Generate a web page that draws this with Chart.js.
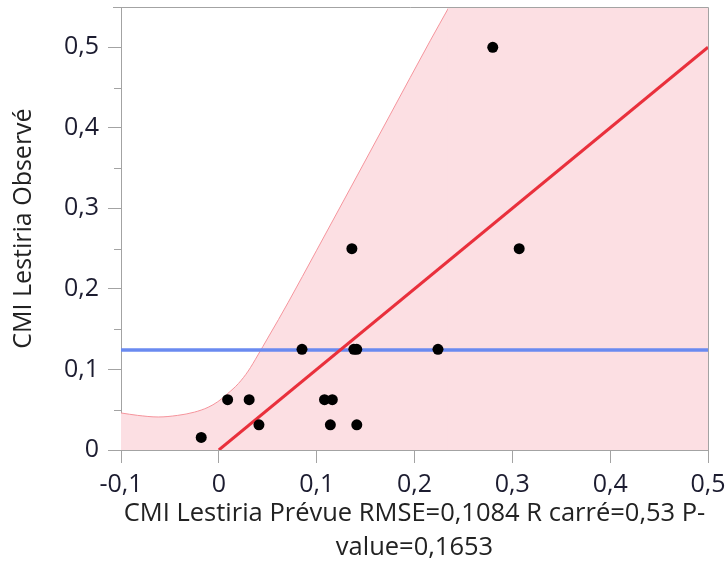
<!DOCTYPE html>
<html>
<head>
<meta charset="utf-8">
<script src="https://cdn.jsdelivr.net/npm/chart.js@4.4.1/dist/chart.umd.min.js"></script>
<style>
  html, body { margin: 0; padding: 0; background: #ffffff; }
  #wrap { width: 725px; height: 565px; }
</style>
</head>
<body>
<div id="wrap"><canvas id="c" width="725" height="565"></canvas></div>
<script>
// Predicted vs observed CMI (Lestiria)
const predicted = [-0.018, 0.009, 0.031, 0.041, 0.085, 0.108, 0.116, 0.114, 0.136, 0.138, 0.141, 0.141, 0.224, 0.280, 0.307];
const observed  = [0.0156, 0.0625, 0.0625, 0.03125, 0.125, 0.0625, 0.0625, 0.03125, 0.25, 0.125, 0.125, 0.03125, 0.125, 0.5, 0.25];

// Upper confidence curve of the fit, up to where it leaves the plot (filled down to 0)
const bandX     = [-0.1, -0.083, -0.062, -0.042, -0.025, -0.011, -0.001, 0.009, 0.020, 0.030, 0.040, 0.050, 0.061, 0.071, 0.100, 0.134, 0.175, 0.216, 0.2353];
const bandUpper = [0.046, 0.043, 0.041, 0.043, 0.047, 0.053, 0.060, 0.070, 0.0825, 0.098, 0.118, 0.139, 0.162, 0.1835, 0.248, 0.324, 0.416, 0.508, 0.55];
// Beyond that the band covers the whole height of the plot
const bandTopX  = [0.234, 0.5];
const bandTopY  = [0.55, 0.55];

// Fit line and mean of observed values
const fitX = [0, 0.5];
const fitY = [0, 0.5];
const meanObserved = 0.124;

// Axis ticks
const xTickValues = [-0.1, 0, 0.1, 0.2, 0.3, 0.4, 0.5];
const yTickValues = [0, 0.1, 0.2, 0.3, 0.4, 0.5];
const yMinorValues = [0.05, 0.15, 0.25, 0.35, 0.45];

const xTitle = ['CMI Lestiria Prévue RMSE=0,1084 R carré=0,53 P-', 'value=0,1653'];
const yTitle = 'CMI Lestiria Observé';

const AXIS = '#a3a3a3';
const BAND = '#fcdfe3';
const FONT = '"Open Sans", "Noto Sans", sans-serif';

function fmt(v) {
  const r = Math.round(v * 10) / 10;
  return r === 0 ? '0' : r.toFixed(1).replace('.', ',');
}

const zip = (xs, ys) => xs.map((x, i) => ({ x: x, y: ys[i] }));

// Frame (top/right edges) and minor ticks on the y axis
const framePlugin = {
  id: 'frame',
  afterDatasetsDraw(chart) {
    const { ctx, chartArea: a, scales } = chart;
    ctx.save();
    ctx.strokeStyle = AXIS;
    ctx.lineWidth = 1;
    ctx.beginPath();
    ctx.moveTo(a.left - 8, a.top + 0.5);
    ctx.lineTo(a.right + 0.5, a.top + 0.5);
    ctx.lineTo(a.right + 0.5, a.bottom);
    ctx.stroke();
    ctx.beginPath();
    yMinorValues.forEach(v => {
      const y = Math.round(scales.y.getPixelForValue(v)) + 0.5;
      ctx.moveTo(a.left - 7, y);
      ctx.lineTo(a.left, y);
    });
    ctx.stroke();
    ctx.restore();
  }
};

new Chart(document.getElementById('c'), {
  type: 'scatter',
  data: {
    datasets: [
      {
        label: 'Points',
        data: zip(predicted, observed),
        backgroundColor: '#000000',
        borderWidth: 0,
        pointRadius: 5.5,
        order: 0
      },
      {
        label: 'Ajustement',
        type: 'line',
        data: zip(fitX, fitY),
        borderColor: '#e9303c',
        borderWidth: 3,
        pointRadius: 0,
        fill: false,
        order: 1
      },
      {
        label: 'Moyenne',
        type: 'line',
        data: [{ x: -0.1, y: meanObserved }, { x: 0.5, y: meanObserved }],
        borderColor: '#6a8af0',
        borderWidth: 3.5,
        pointRadius: 0,
        fill: false,
        order: 2
      },
      {
        label: 'Confiance',
        type: 'line',
        data: zip(bandX, bandUpper),
        borderColor: '#f5949c',
        borderWidth: 1,
        backgroundColor: BAND,
        pointRadius: 0,
        cubicInterpolationMode: 'monotone',
        fill: 'origin',
        order: 4
      },
      {
        label: 'Confiance (haut)',
        type: 'line',
        data: zip(bandTopX, bandTopY),
        borderWidth: 0,
        borderColor: 'rgba(0,0,0,0)',
        backgroundColor: BAND,
        pointRadius: 0,
        fill: 'origin',
        order: 3
      }
    ]
  },
  options: {
    responsive: false,
    animation: false,
    events: [],
    layout: { padding: { top: 7, right: 17, left: 0, bottom: 0 } },
    plugins: { legend: { display: false }, tooltip: { enabled: false } },
    scales: {
      x: {
        type: 'linear',
        min: -0.1,
        max: 0.5,
        afterBuildTicks: s => { s.ticks = xTickValues.map(v => ({ value: v })); },
        afterFit: s => { s.height = 115; s.paddingLeft = 0; s.paddingRight = 0; },
        border: { display: true, color: AXIS, width: 1 },
        grid: { drawOnChartArea: false, drawTicks: true, tickLength: 13, color: AXIS, tickColor: AXIS },
        ticks: {
          callback: v => fmt(v),
          color: '#1c1c30',
          padding: 7,
          maxRotation: 0,
          font: { family: FONT, size: 25 }
        },
        title: {
          display: true,
          text: xTitle,
          color: '#222222',
          font: { family: FONT, size: 25.5, lineHeight: 1.333 },
          padding: { top: 0, bottom: 0 }
        }
      },
      y: {
        type: 'linear',
        min: 0,
        max: 0.55,
        afterBuildTicks: s => { s.ticks = yTickValues.map(v => ({ value: v })); },
        afterFit: s => { s.width = 121; s.paddingTop = 0; s.paddingBottom = 0; },
        border: { display: true, color: AXIS, width: 1 },
        grid: { drawOnChartArea: false, drawTicks: true, tickLength: 13, color: AXIS, tickColor: AXIS },
        ticks: {
          callback: v => fmt(v),
          color: '#1c1c30',
          padding: 9,
          font: { family: FONT, size: 25 }
        },
        title: {
          display: true,
          text: yTitle,
          color: '#222222',
          font: { family: FONT, size: 25, lineHeight: 1.2 },
          padding: { top: 9, bottom: 0 }
        }
      }
    }
  },
  plugins: [framePlugin]
});
</script>
</body>
</html>
